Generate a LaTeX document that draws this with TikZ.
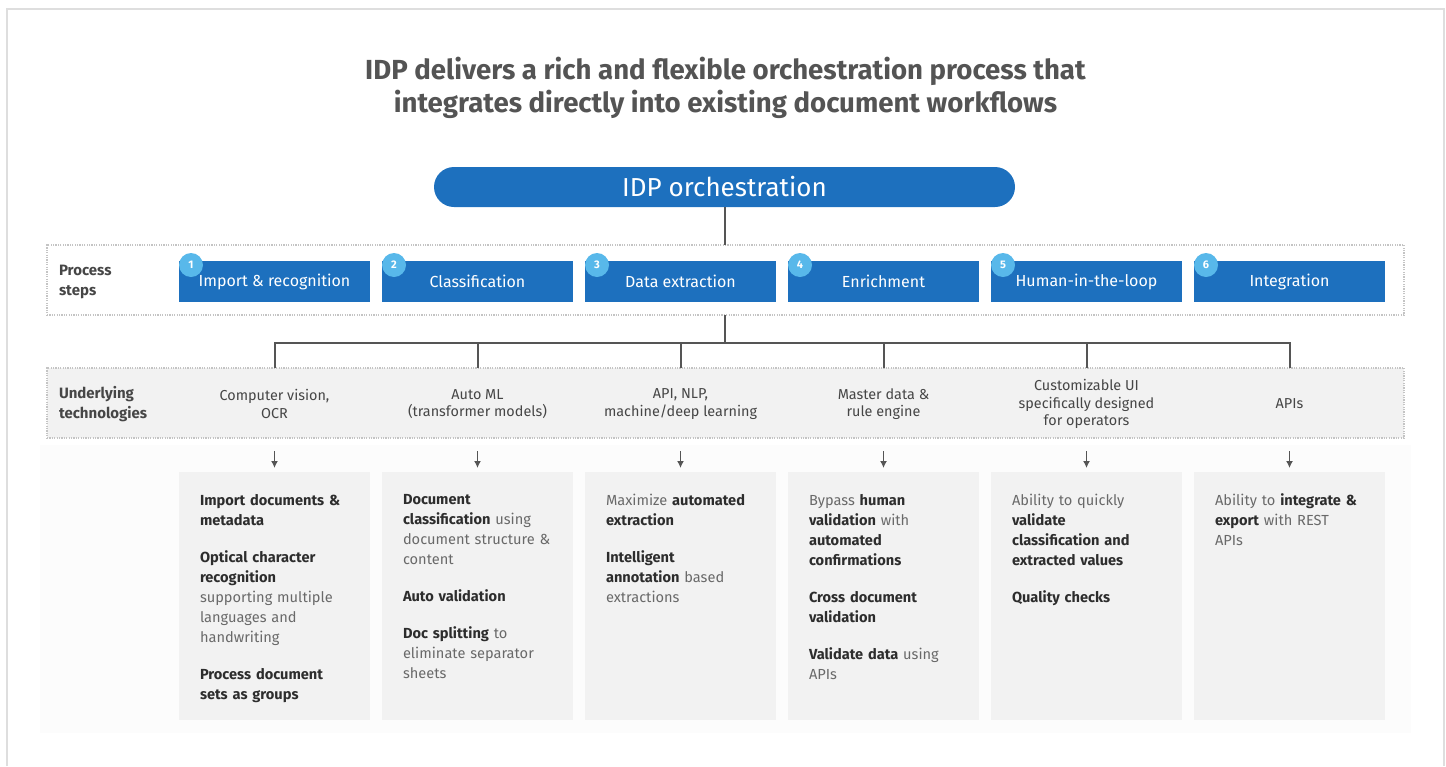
\documentclass[tikz,border=0pt]{standalone}
\usepackage{fontspec}
\setmainfont{Fira Sans}
\usetikzlibrary{arrows.meta}

\definecolor{idpblue}{RGB}{29,112,190}
\definecolor{badgeblue}{RGB}{88,184,234}
\definecolor{framegrey}{RGB}{222,222,222}
\definecolor{faintgrey}{RGB}{252,252,252}
\definecolor{panelgrey}{RGB}{242,242,242}
\definecolor{rowline}{RGB}{196,196,196}
\definecolor{connline}{RGB}{85,85,85}
\definecolor{titlegrey}{RGB}{84,84,84}
\definecolor{labelgrey}{RGB}{70,70,70}
\definecolor{softgrey}{RGB}{105,105,105}
\definecolor{boldgrey}{RGB}{45,45,45}

\newcommand\kw[1]{\textbf{\color{boldgrey}#1}}

\tikzset{
  every node/.style={inner sep=0pt, outer sep=0pt},
  titletext/.style={align=center, text=titlegrey, font=\fontsize{13.8}{16.5}\selectfont\bfseries},
  pill/.style={fill=idpblue, rounded corners=10pt, minimum width=290.5pt, minimum height=20pt,
    text=white, font=\fontsize{13}{15}\selectfont},
  rowbox/.style={draw=rowline, dash pattern=on 0.6pt off 0.6pt, line width=0.6pt,
    minimum width=678.5pt, minimum height=35pt},
  stepbox/.style={fill=idpblue, minimum width=95.5pt, minimum height=20.5pt,
    text=white, font=\fontsize{8}{9}\selectfont},
  badge/.style={circle, fill=badgeblue, minimum size=12pt, text=white,
    font=\fontsize{5.5}{6}\selectfont\bfseries},
  rowlabel/.style={anchor=west, align=left, text=labelgrey, font=\fontsize{7.5}{10}\selectfont\bfseries},
  techlabel/.style={align=center, text=labelgrey, font=\fontsize{7.2}{8.75}\selectfont},
  detailbox/.style={fill=panelgrey, minimum width=95.5pt, minimum height=124pt},
  detailtext/.style={anchor=north west, align=left, text width=84pt, text=softgrey,
    font=\fontsize{7.3}{10}\selectfont},
  conn/.style={draw=connline, line width=1pt},
  arr/.style={draw=connline, line width=0.8pt, -{Latex[length=3.5pt,width=3.5pt]}, shorten >=2pt},
}

\begin{document}
\begin{tikzpicture}[x=0.5pt,y=-0.5pt]
\useasboundingbox (0,0) rectangle (1446,766);
\draw[line width=1pt, framegrey] (7,766) -- (7,9) -- (1444,9) -- (1444,766);
\fill[faintgrey] (40,445) rectangle (1411,733);

\node[titletext] (title) at (725.5,88) {IDP delivers a rich and flexible orchestration process that\\integrates directly into existing document workflows};
\node[pill] (orch) at (724.5,187) {IDP orchestration};

\node[rowbox] (procrow) at (725.5,280) {};
\node[rowbox, fill=panelgrey] (techrow) at (725.5,403) {};
\node[rowlabel] (proclabel) at (59,282) {Process\\steps};
\node[rowlabel] (techlabel) at (59,404) {Underlying\\technologies};

\foreach \i/\name in {1/Import \& recognition, 2/Classification, 3/Data extraction,
    4/Enrichment, 5/Human-in-the-loop, 6/Integration}{
  \pgfmathsetmacro\cx{71.5+203*\i}
  \node[stepbox] (step\i) at (\cx,281.5) {\name};
  \node[badge] (badge\i) at ([shift={(12,4)}]step\i.north west) {\i};
}

\foreach \i/\tech in {1/{Computer vision,\\OCR}, 2/{Auto ML\\(transformer models)},
    3/{API, NLP,\\machine/deep learning}, 4/{Master data \&\\rule engine},
    5/{Customizable UI\\specifically designed\\for operators}, 6/{APIs}}{
  \pgfmathsetmacro\cx{71.5+203*\i}
  \node[techlabel] (tech\i) at (\cx,404) {\tech};
}

\coordinate (bus) at (724.5,343);
\draw[conn] (orch.south) -- (orch.south |- procrow.north);
\draw[conn] (orch.south |- procrow.south) -- (bus);
\draw[conn] (step1 |- techrow.north) -- (step1 |- bus) -- (step6 |- bus) -- (step6 |- techrow.north);
\foreach \i in {2,...,5}
  \draw[conn] (step\i |- bus) -- (step\i |- techrow.north);

\foreach \i in {1,...,6}{
  \pgfmathsetmacro\cx{71.5+203*\i}
  \node[detailbox] (detail\i) at (\cx,596) {};
  \draw[arr] (detail\i.north |- techrow.south) ++(0,13) -- (detail\i.north);
}

\node[detailtext] (text1) at ([shift={(21,22)}]detail1.north west)
  {\kw{Import documents \&}\\\kw{metadata}\\[8.5pt]
   \kw{Optical character}\\\kw{recognition}\\supporting multiple\\languages and\\handwriting\\[8.5pt]
   \kw{Process document}\\\kw{sets as groups}};
\node[detailtext] (text2) at ([shift={(21,22)}]detail2.north west)
  {\kw{Document}\\\kw{classification} using\\document structure \&\\content\\[8.5pt]
   \kw{Auto validation}\\[8.5pt]
   \kw{Doc splitting} to\\eliminate separator\\sheets};
\node[detailtext] (text3) at ([shift={(21,22)}]detail3.north west)
  {Maximize \kw{automated}\\\kw{extraction}\\[8.5pt]
   \kw{Intelligent}\\\kw{annotation} based\\extractions};
\node[detailtext] (text4) at ([shift={(21,22)}]detail4.north west)
  {Bypass \kw{human}\\\kw{validation} with\\\kw{automated}\\\kw{confirmations}\\[8.5pt]
   \kw{Cross document}\\\kw{validation}\\[8.5pt]
   \kw{Validate data} using\\APIs};
\node[detailtext] (text5) at ([shift={(21,22)}]detail5.north west)
  {Ability to quickly\\\kw{validate}\\\kw{classification and}\\\kw{extracted values}\\[8.5pt]
   \kw{Quality checks}};
\node[detailtext] (text6) at ([shift={(21,22)}]detail6.north west)
  {Ability to \kw{integrate \&}\\\kw{export} with REST\\APIs};
\end{tikzpicture}
\end{document}
